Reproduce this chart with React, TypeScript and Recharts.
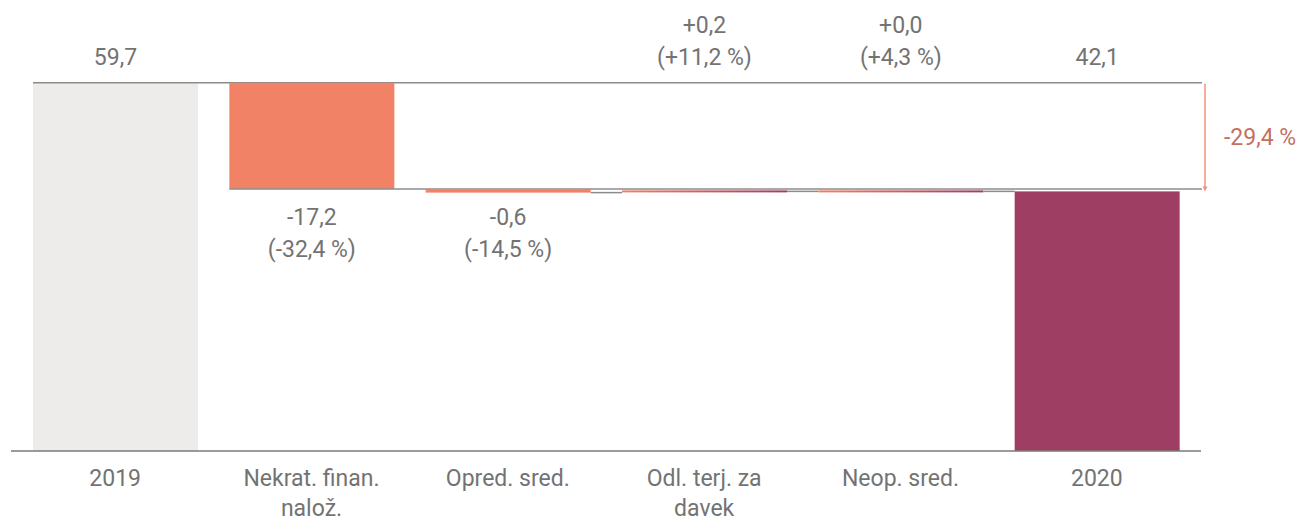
import { Bar, BarChart, XAxis, YAxis } from 'recharts';

// ---- data ----
const categories = ['2019', 'Nekrat. finan. nalož.', 'Opred. sred.', 'Odl. terj. za davek', 'Neop. sred.', '2020'];
const tickLines = [['2019'], ['Nekrat. finan.', 'nalož.'], ['Opred. sred.'], ['Odl. terj. za', 'davek'], ['Neop. sred.'], ['2020']];
const kinds = ['total', 'change', 'change', 'change', 'change', 'total'];
const values = [59.7, -17.2, -0.6, 0.2, 0.0, 42.1];
const pctChanges = [null, -32.4, -14.5, 11.2, 4.3, null];
const totalPct = -29.4;

// ---- layout / style ----
const CHART_W = 1312;
const CHART_H = 520;
const MARGIN = { top: 81, right: 111, left: 11, bottom: 9 };
const X_PAD = 6;
const BAR_SIZE = 165;
const BAND = (CHART_W - MARGIN.left - MARGIN.right - 2 * X_PAD) / categories.length;
const LINE_END = CHART_W - MARGIN.right + 1;
const LABEL_ABOVE = [25, 57];
const LABEL_BELOW = [217, 249];

const FONT = 'Roboto, "Noto Sans", sans-serif';
const FONT_SIZE = 23;
const TEXT = '#737373';
const GREY_BAR = '#edecea';
const CORAL = '#f18265';
const WINE = '#9e3e62';
const LINE = '#8c8c8c';
const ARROW = '#f0937a';
const ARROW_TEXT = '#c4705e';

const fmt = (v: number, signed: boolean) => {
  const s = Math.abs(v).toFixed(1).replace('.', ',');
  if (!signed) return s;
  return (v < 0 ? '-' : '+') + s;
};

let level = 0;
const rows = categories.map((name, i) => {
  const v = values[i];
  let start: number;
  let end: number;
  if (kinds[i] === 'total') {
    start = 0;
    end = v;
  } else {
    start = level;
    end = level + v;
  }
  level = end;
  return { name, kind: kinds[i], delta: v, start, end, range: [Math.min(start, end), Math.max(start, end)], pct: pctChanges[i] };
});

function WaterfallShape(props: any) {
  const { x, y, width, height, index, payload } = props;
  const h = Math.max(height, 2);
  const isTotal = payload.kind === 'total';
  const up = !isTotal && payload.delta >= 0;
  const fill = isTotal ? (index === 0 ? GREY_BAR : WINE) : up ? `url(#inc-${index})` : CORAL;
  const endY = isTotal || up ? y : y + height;

  // first two levels run all the way to the arrow, the rest just bridge to the next bar
  const long = index < 2;
  const lx1 = long ? x : x + width;
  const lx2 = long ? LINE_END : x + width + (BAND - width);

  const textProps = { fontFamily: FONT, fontSize: FONT_SIZE, fill: TEXT, textAnchor: 'middle' as const, dominantBaseline: 'central' as const };
  const cx = x + width / 2;

  let labels: string[] = [];
  let rowsY = LABEL_ABOVE;
  if (isTotal) {
    labels = [fmt(payload.delta, false)];
    rowsY = [LABEL_ABOVE[1]];
  } else {
    labels = [fmt(payload.delta, true), `(${fmt(payload.pct, true)} %)`];
    rowsY = up ? LABEL_ABOVE : LABEL_BELOW;
  }

  let arrow = null;
  if (index === categories.length - 1) {
    const topY = y + height - (values[0] * height) / payload.delta;
    const ax = LINE_END + 3;
    arrow = (
      <g>
        <line x1={ax} y1={topY + 1} x2={ax} y2={y - 3} stroke={ARROW} strokeWidth={1.5} />
        <polygon points={`${ax - 2.5},${y - 5} ${ax + 2.5},${y - 5} ${ax},${y}`} fill={ARROW} />
        <text x={ax + 19} y={(topY + y) / 2} fontFamily={FONT} fontSize={FONT_SIZE} fill={ARROW_TEXT} dominantBaseline="central">
          {`${fmt(totalPct, true)} %`}
        </text>
      </g>
    );
  }

  return (
    <g>
      {up && (
        <defs>
          <linearGradient id={`inc-${index}`} x1="0" y1="0" x2="1" y2="0">
            <stop offset="0%" stopColor={CORAL} />
            <stop offset="100%" stopColor={WINE} />
          </linearGradient>
        </defs>
      )}
      <rect x={x} y={height < 2 ? y - 1 : y} width={width} height={h} fill={fill} />
      {index < categories.length - 1 && (
        <line x1={lx1} y1={endY} x2={lx2} y2={endY} stroke={LINE} strokeWidth={1.5} />
      )}
      {labels.map((t, k) => (
        <text key={k} x={cx} y={rowsY[k]} {...textProps}>
          {t}
        </text>
      ))}
      {arrow}
    </g>
  );
}

function CategoryTick(props: any) {
  const { x, y, payload } = props;
  const lines = tickLines[categories.indexOf(payload.value)] || [payload.value];
  return (
    <g>
      {lines.map((t, k) => (
        <text key={k} x={x} y={y + 27 + k * 30} textAnchor="middle" dominantBaseline="central" fontFamily={FONT} fontSize={FONT_SIZE} fill={TEXT}>
          {t}
        </text>
      ))}
    </g>
  );
}

export default function App() {
  return (
    <div style={{ position: 'absolute', left: 0, top: 0, background: '#fff' }}>
      <BarChart width={CHART_W} height={CHART_H} data={rows} margin={MARGIN}>
        <XAxis
          dataKey="name"
          interval={0}
          height={60}
          padding={{ left: X_PAD, right: X_PAD }}
          tickLine={false}
          tickSize={0}
          tickMargin={0}
          axisLine={{ stroke: '#7a7a7a', strokeWidth: 1.5 }}
          tick={<CategoryTick />}
        />
        <YAxis hide domain={[0, 60]} />
        <Bar dataKey="range" barSize={BAR_SIZE} shape={<WaterfallShape />} isAnimationActive={false} />
      </BarChart>
    </div>
  );
}
